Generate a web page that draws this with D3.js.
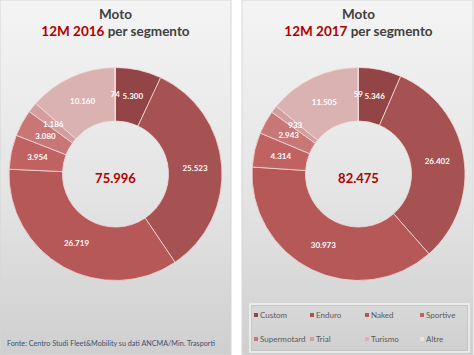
<!DOCTYPE html>
<html>
<head>
<meta charset="utf-8">
<script src="https://cdn.jsdelivr.net/npm/d3@7"></script>
<style>
  html, body { margin: 0; padding: 0; background: #ffffff; }
  svg { display: block; font-family: Lato, "Open Sans", sans-serif; }
</style>
</head>
<body>
<svg id="chart" width="474" height="355"></svg>
<script>
// ---- data ----
const categories = ["Custom", "Enduro", "Naked", "Sportive", "Supermotard", "Trial", "Turismo", "Altre"];
const values2016 = [5300, 25523, 26719, 3954, 3080, 1186, 10160, 74];
const values2017 = [5346, 26402, 30973, 4314, 2943, 933, 11505, 59];
const periodLabels = ["12M 2016", "12M 2017"];
const titleMain = "Moto";
const titleSuffix = " per segmento";
const sourceNote = "Fonte: Centro Studi Fleet&Mobility su dati ANCMA/Min. Trasporti";

const colors = ["#924446", "#a65152", "#b65857", "#c16262", "#c97676", "#d59e9e", "#dbb2b2", "#efdede"];

const locale = d3.formatLocale({ decimal: ",", thousands: ".", grouping: [3], currency: ["€", ""] });
const fmt = locale.format(",d");

const svg = d3.select("#chart");
const defs = svg.append("defs");
const grad = defs.append("linearGradient").attr("id", "bg").attr("x1", 0).attr("y1", 0).attr("x2", 0).attr("y2", 1);
grad.append("stop").attr("offset", "0%").attr("stop-color", "#f4f4f4");
grad.append("stop").attr("offset", "55%").attr("stop-color", "#e4e4e4");
grad.append("stop").attr("offset", "100%").attr("stop-color", "#cfcfcf");
const lgrad = defs.append("linearGradient").attr("id", "lg").attr("x1", 0).attr("y1", 0).attr("x2", 0).attr("y2", 1);
lgrad.append("stop").attr("offset", "0%").attr("stop-color", "#d8d8d8");
lgrad.append("stop").attr("offset", "100%").attr("stop-color", "#d0d0d0");

const panels = [
  { x: 0, w: 231, cx: 115.5, values: values2016, label: periodLabels[0] },
  { x: 242, w: 231, cx: 358.5, values: values2017, label: periodLabels[1] }
];

const cy = 174;
const outerR = 106.5, innerR = 53;
const pie = d3.pie().sort(null).value(d => d);
const arc = d3.arc().innerRadius(innerR).outerRadius(outerR);

panels.forEach((p, pi) => {
  const g = svg.append("g");
  g.append("rect").attr("x", p.x).attr("y", 0).attr("width", p.w).attr("height", 355)
    .attr("fill", "url(#bg)").attr("stroke", "#d6d6d6").attr("stroke-width", 1);

  // titles
  g.append("text").attr("x", p.cx).attr("y", 19).attr("text-anchor", "middle")
    .attr("font-size", 13.5).attr("font-weight", "bold").attr("fill", "#404040").text(titleMain);
  const t2 = g.append("text").attr("x", p.cx).attr("y", 36).attr("text-anchor", "middle")
    .attr("font-size", 13.5).attr("font-weight", "bold");
  t2.append("tspan").attr("fill", "#b00000").text(p.label);
  t2.append("tspan").attr("fill", "#404040").text(titleSuffix);

  const dg = g.append("g").attr("transform", `translate(${p.cx},${cy})`);
  const arcs = pie(p.values);
  dg.selectAll("path").data(arcs).join("path")
    .attr("d", arc)
    .attr("fill", (d, i) => colors[i])
    .attr("stroke", "#f3dada").attr("stroke-width", 0.8);

  dg.selectAll("text.lbl").data(arcs).join("text").attr("class", "lbl")
    .attr("transform", d => `translate(${arc.centroid(d)})`)
    .attr("text-anchor", "middle").attr("dy", "0.35em")
    .attr("font-size", 8).attr("font-weight", "bold").attr("fill", "#ffffff")
    .text(d => fmt(d.data));

  dg.append("text").attr("text-anchor", "middle").attr("dy", "0.35em").attr("y", 4)
    .attr("font-size", 13).attr("font-weight", "bold").attr("fill", "#b00000")
    .text(fmt(d3.sum(p.values)));
});

// source note
svg.append("text").attr("x", 7).attr("y", 346).attr("font-size", 7.2).attr("fill", "#3f4f75")
  .text(sourceNote);

// legend
const lg = svg.append("g");
lg.append("rect").attr("x", 250).attr("y", 304).attr("width", 219).attr("height", 48)
  .attr("fill", "url(#lg)").attr("stroke", "#f2f2f2").attr("stroke-width", 1.5);
lg.append("rect").attr("x", 251.5).attr("y", 305.5).attr("width", 216).attr("height", 45)
  .attr("fill", "none").attr("stroke", "#bdbdbd").attr("stroke-width", 0.6);
const colX = [254, 310, 365, 420];
const rowY = [315, 339];
categories.forEach((c, i) => {
  const x = colX[i % 4], y = rowY[Math.floor(i / 4)];
  lg.append("rect").attr("x", x).attr("y", y - 2).attr("width", 4).attr("height", 4).attr("fill", colors[i]);
  lg.append("text").attr("x", x + 6).attr("y", y).attr("dy", "0.35em")
    .attr("font-size", 8).attr("fill", "#595959").text(c);
});
</script>
</body>
</html>
